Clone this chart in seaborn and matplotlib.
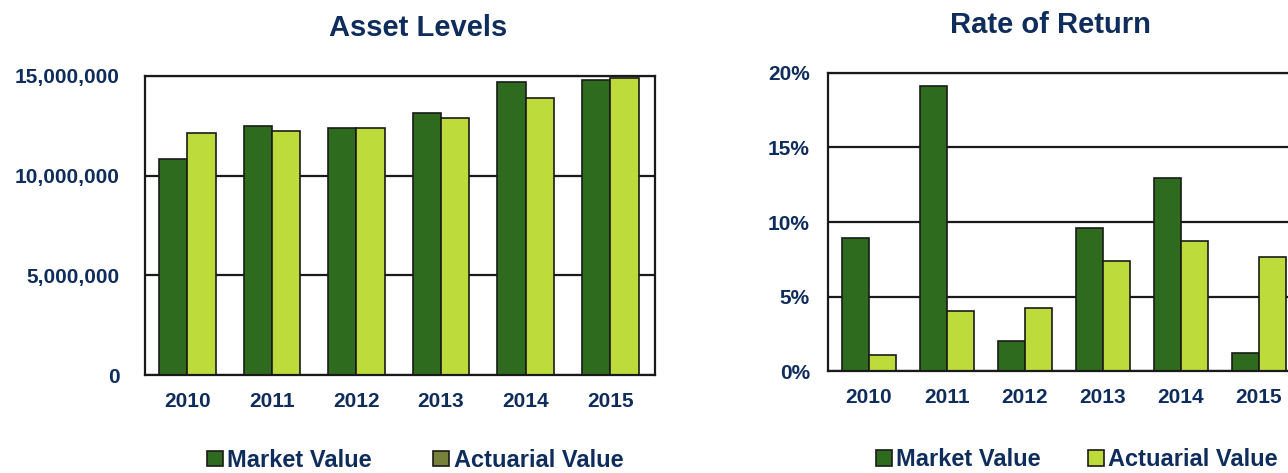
import matplotlib

matplotlib.use("Agg")

import pandas as pd
import numpy as np
import matplotlib.pyplot as plt
import seaborn as sns
from matplotlib.ticker import FuncFormatter

# data
years = ["2010", "2011", "2012", "2013", "2014", "2015"]
market_assets = [10840000, 12490000, 12400000, 13150000, 14700000, 14800000]
actuarial_assets = [12140000, 12240000, 12400000, 12900000, 13900000, 14900000]
market_return = [8.9, 19.1, 2.0, 9.6, 12.95, 1.2]
actuarial_return = [1.1, 4.0, 4.2, 7.4, 8.7, 7.65]
series_names = ["Market Value", "Actuarial Value"]
asset_ticks = [0, 5000000, 10000000, 15000000]
return_ticks = [0, 5, 10, 15, 20]

navy = "#0f2d5c"
dark_green = "#2e6b1e"
light_green = "#bddc3c"

sns.set_theme(style="white")
plt.rcParams["font.family"] = ["Liberation Sans", "DejaVu Sans"]
plt.rcParams["font.weight"] = "bold"

df_assets = pd.DataFrame({
    "Year": years * 2,
    "Value": market_assets + actuarial_assets,
    "Series": [series_names[0]] * 6 + [series_names[1]] * 6,
})
df_return = pd.DataFrame({
    "Year": years * 2,
    "Value": market_return + actuarial_return,
    "Series": [series_names[0]] * 6 + [series_names[1]] * 6,
})

fig = plt.figure(figsize=(12.88, 4.73), dpi=100)
ax1 = fig.add_axes([145 / 1288, 1 - 375 / 473, 510 / 1288, 299 / 473])
ax2 = fig.add_axes([828 / 1288, 1 - 371 / 473, 470 / 1288, 298 / 473])

palette = {series_names[0]: dark_green, series_names[1]: light_green}


def style_axes(ax, ticks, ymax, fmt, ypad):
    ax.set_ylim(0, ymax)
    ax.set_yticks(ticks)
    ax.yaxis.set_major_formatter(FuncFormatter(fmt))
    ax.grid(axis="y", color="#1a1a1a", linewidth=1.6)
    ax.set_axisbelow(True)
    for s in ax.spines.values():
        s.set_visible(True)
        s.set_color("#1a1a1a")
        s.set_linewidth(1.6)
    ax.tick_params(axis="y", length=0, pad=ypad, labelsize=15, labelcolor=navy)
    ax.tick_params(axis="x", length=0, pad=12, labelsize=15, labelcolor=navy)
    for lab in ax.get_xticklabels() + ax.get_yticklabels():
        lab.set_fontweight("bold")
    ax.set_xlabel("")
    ax.set_ylabel("")


sns.barplot(data=df_assets, x="Year", y="Value", hue="Series", palette=palette,
            width=0.67, edgecolor="#1a1a1a", linewidth=1.2, saturation=1, ax=ax1)
ax1.set_xlim(-0.5, 5.53)
style_axes(ax1, asset_ticks, 15000000, lambda v, p: f"{v:,.0f}", 18)

sns.barplot(data=df_return, x="Year", y="Value", hue="Series", palette=palette,
            width=0.69, edgecolor="#1a1a1a", linewidth=1.2, saturation=1, ax=ax2)
ax2.set_xlim(-0.52, 5.5)
style_axes(ax2, return_ticks, 20, lambda v, p: f"{v:.0f}%", 13)

for ax, anchor, spacing in [(ax1, (0.53, -0.285), 2.6), (ax2, (0.53, -0.298), 2.0)]:
    sns.move_legend(ax, "center", bbox_to_anchor=anchor, ncol=2, frameon=False,
                    title=None, fontsize=17, handlelength=0.65, handleheight=0.65,
                    handletextpad=0.2, columnspacing=spacing)
    for t in ax.get_legend().get_texts():
        t.set_color(navy)
        t.set_fontweight("bold")

# the scanned left legend shows an olive swatch for Actuarial Value
ax1.get_legend().legend_handles[1].set_facecolor("#77813a")

fig.text(418 / 1288, 1 - 28 / 473, "Asset Levels", ha="center", va="center",
         fontsize=21, fontweight="bold", color=navy)
fig.text(1050 / 1288, 1 - 25 / 473, "Rate of Return", ha="center", va="center",
         fontsize=21, fontweight="bold", color=navy)

fig.savefig("out.png", dpi=100)
